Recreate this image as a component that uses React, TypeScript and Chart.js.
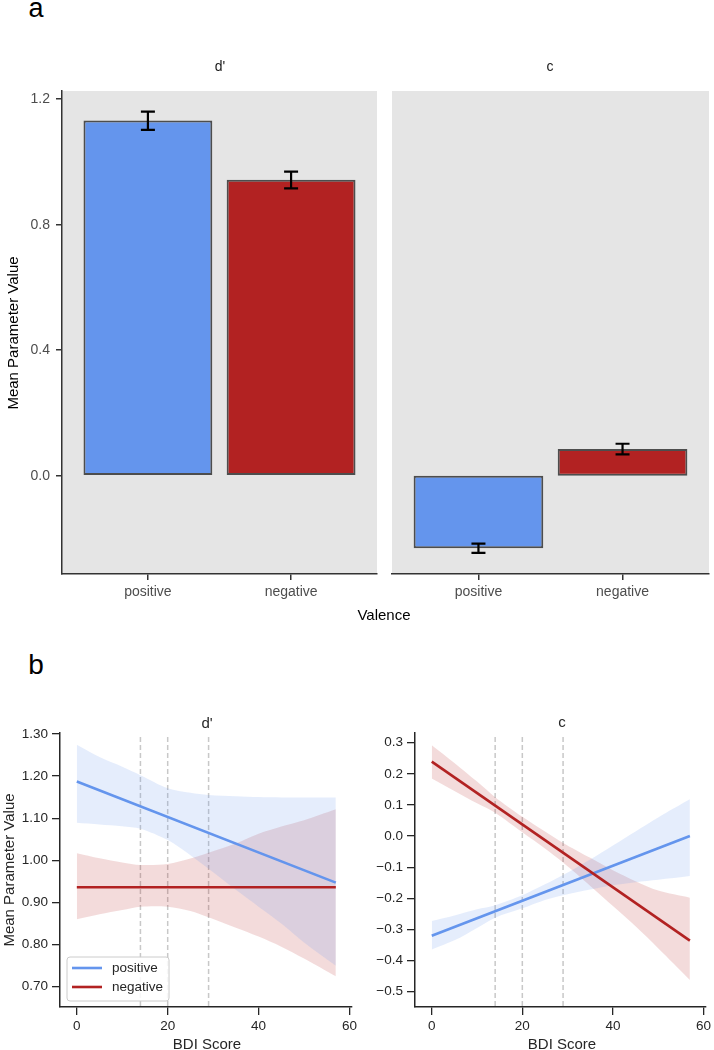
import React, { useEffect, useRef } from "react";
import { Chart, registerables } from "chart.js";

Chart.register(...registerables);

const FONT = '"Liberation Sans", Arial, Helvetica, sans-serif';
Chart.defaults.font.family = FONT;

// ---------------- data: panel a (bars) ----------------
const valenceCategories = ["positive", "negative"];
const dPrimeMeans = [1.132, 0.943];
const dPrimeErrLow = [1.102, 0.916];
const dPrimeErrHigh = [1.16, 0.969];
const cMeans = [-0.231, 0.085];
const cErrLow = [-0.246, 0.068];
const cErrHigh = [-0.216, 0.102];
const barYTicks = [0, 0.4, 0.8, 1.2];

// ---------------- data: panel b (regressions) ----------------
const bdiTicks = [0, 20, 40, 60];
const bdiCutoffs = [14, 20, 29];
const lineX = [0, 57];
const dPrimePositiveLine = [1.187, 0.947];
const dPrimeNegativeLine = [0.936, 0.936];
const cPositiveLine = [-0.32, 0.0];
const cNegativeLine = [0.239, -0.336];

const bandX = [0, 5, 10, 14, 20, 25, 29, 35, 40, 45, 50, 57];
const dPrimePositiveUpper = [1.274, 1.245, 1.222, 1.202, 1.171, 1.16, 1.155, 1.152, 1.15, 1.149, 1.149, 1.149];
const dPrimePositiveLower = [1.089, 1.085, 1.081, 1.075, 1.048, 1.012, 0.98, 0.93, 0.89, 0.85, 0.805, 0.75];
const dPrimeNegativeUpper = [1.017, 1.005, 0.995, 0.989, 0.991, 1.004, 1.018, 1.04, 1.063, 1.08, 1.095, 1.121];
const dPrimeNegativeLower = [0.86, 0.872, 0.882, 0.89, 0.89, 0.88, 0.865, 0.84, 0.819, 0.795, 0.767, 0.725];
const cPositiveUpper = [-0.273, -0.255, -0.235, -0.222, -0.19, -0.155, -0.125, -0.075, -0.03, 0.015, 0.06, 0.118];
const cPositiveLower = [-0.364, -0.335, -0.295, -0.262, -0.232, -0.205, -0.19, -0.172, -0.158, -0.148, -0.14, -0.128];
const cNegativeUpper = [0.292, 0.235, 0.175, 0.125, 0.062, 0.015, -0.022, -0.07, -0.11, -0.145, -0.175, -0.198];
const cNegativeLower = [0.185, 0.145, 0.105, 0.075, 0.012, -0.04, -0.085, -0.16, -0.225, -0.29, -0.36, -0.462];
const dPrimeYTicks = [0.7, 0.8, 0.9, 1.0, 1.1, 1.2, 1.3];
const cYTicks = [-0.5, -0.4, -0.3, -0.2, -0.1, 0, 0.1, 0.2, 0.3];

// ---------------- styles ----------------
const BLUE = "#6495ED";
const RED = "#B22222";
const BLUE_BAND = "rgba(100,149,237,0.17)";
const RED_BAND = "rgba(178,34,34,0.16)";
const valenceColors = [BLUE, RED];

// ---------------- plugins ----------------
function makePanelBg(color: string) {
  return {
    id: "panelBg",
    beforeDraw(chart: any) {
      const { ctx, chartArea: a } = chart;
      ctx.save();
      ctx.fillStyle = color;
      ctx.fillRect(a.left, a.top, a.right - a.left, a.bottom - a.top);
      ctx.restore();
    },
  };
}

function makeErrorBars(low: number[], high: number[]) {
  return {
    id: "errorBars",
    afterDatasetsDraw(chart: any) {
      const { ctx } = chart;
      const xs = chart.scales.x;
      const ys = chart.scales.y;
      ctx.save();
      ctx.strokeStyle = "#000";
      ctx.lineWidth = 2.2;
      low.forEach((lo, i) => {
        const px = xs.getPixelForValue(i);
        const y1 = ys.getPixelForValue(lo);
        const y2 = ys.getPixelForValue(high[i]);
        ctx.beginPath();
        ctx.moveTo(px, y1);
        ctx.lineTo(px, y2);
        ctx.moveTo(px - 7, y1);
        ctx.lineTo(px + 7, y1);
        ctx.moveTo(px - 7, y2);
        ctx.lineTo(px + 7, y2);
        ctx.stroke();
      });
      ctx.restore();
    },
  };
}

function makeCutoffs(values: number[]) {
  return {
    id: "cutoffs",
    beforeDatasetsDraw(chart: any) {
      const { ctx, chartArea: a } = chart;
      const xs = chart.scales.x;
      ctx.save();
      ctx.strokeStyle = "#c8c8c8";
      ctx.lineWidth = 1.5;
      ctx.setLineDash([5, 3]);
      values.forEach((v) => {
        const px = xs.getPixelForValue(v);
        ctx.beginPath();
        ctx.moveTo(px, a.top + 4);
        ctx.lineTo(px, a.bottom);
        ctx.stroke();
      });
      ctx.restore();
    },
  };
}

function makeInsetLegend(labels: string[], colors: string[]) {
  return {
    id: "insetLegend",
    afterDraw(chart: any) {
      const { ctx, chartArea: a } = chart;
      ctx.save();
      ctx.font = `13.5px ${FONT}`;
      const textW = Math.max(...labels.map((l) => ctx.measureText(l).width));
      const w = 45 + textW + 6;
      const h = 44;
      const x0 = a.left + 7;
      const y0 = a.bottom - 6 - h;
      ctx.beginPath();
      ctx.roundRect(x0, y0, w, h, 3);
      ctx.fillStyle = "rgba(255,255,255,0.85)";
      ctx.fill();
      ctx.strokeStyle = "#cccccc";
      ctx.lineWidth = 1;
      ctx.stroke();
      labels.forEach((lab, i) => {
        const yy = y0 + 11 + i * 19;
        ctx.strokeStyle = colors[i];
        ctx.lineWidth = 2.6;
        ctx.beginPath();
        ctx.moveTo(x0 + 5, yy);
        ctx.lineTo(x0 + 35, yy);
        ctx.stroke();
        ctx.fillStyle = "#262626";
        ctx.textBaseline = "middle";
        ctx.textAlign = "left";
        ctx.fillText(lab, x0 + 45, yy);
      });
      ctx.restore();
    },
  };
}

// ---------------- configs ----------------
function barConfig(means: number[], low: number[], high: number[], showY: boolean, padLeft: number, padRight: number) {
  const axisColor = "#333333";
  return {
    type: "bar",
    data: {
      datasets: [
        {
          data: means.map((v, i) => ({ x: i, y: v })),
          backgroundColor: valenceColors,
          borderColor: "#4d4d4d",
          borderWidth: 2,
          borderSkipped: false,
          categoryPercentage: 1,
          barPercentage: 0.9,
        },
      ],
    },
    options: {
      responsive: false,
      animation: false,
      events: [],
      layout: { padding: { left: padLeft, right: padRight, top: 31, bottom: 0 } },
      plugins: { legend: { display: false }, tooltip: { enabled: false } },
      scales: {
        x: {
          type: "linear",
          offset: false,
          min: -0.6,
          max: 1.6,
          afterBuildTicks: (s: any) => {
            s.ticks = valenceCategories.map((_, i) => ({ value: i }));
          },
          afterFit: (s: any) => {
            s.height = 46;
          },
          ticks: {
            callback: (_v: any, i: number) => valenceCategories[i],
            color: "#4d4d4d",
            font: { size: 14 },
            padding: 4,
            autoSkip: false,
            maxRotation: 0,
          },
          grid: { offset: false, drawOnChartArea: false, drawTicks: true, tickLength: 6, color: axisColor, lineWidth: 1.5 },
          border: { display: true, color: axisColor, width: 1.5 },
        },
        y: {
          display: showY,
          min: -0.313,
          max: 1.226,
          afterBuildTicks: (s: any) => {
            s.ticks = barYTicks.map((v) => ({ value: v }));
          },
          afterFit: (s: any) => {
            s.width = showY ? 62 : 0;
          },
          ticks: {
            callback: (v: any) => Number(v).toFixed(1),
            color: "#4d4d4d",
            font: { size: 14 },
            padding: 6,
            autoSkip: false,
          },
          grid: { drawOnChartArea: false, drawTicks: true, tickLength: 6, color: axisColor, lineWidth: 1.5 },
          border: { display: true, color: axisColor, width: 1.5 },
        },
      },
    },
    plugins: [makePanelBg("#e5e5e5"), makeErrorBars(low, high)],
  };
}

function pts(xs: number[], ys: number[]) {
  return xs.map((x, i) => ({ x, y: ys[i] }));
}

function regConfig(opts: {
  posUpper: number[];
  posLower: number[];
  negUpper: number[];
  negLower: number[];
  posLine: number[];
  negLine: number[];
  yMin: number;
  yMax: number;
  yTicks: number[];
  yFmt: (v: number) => string;
  yWidth: number;
  padRight: number;
  legend: boolean;
}) {
  const axisColor = "#262626";
  const band = (data: number[], fill: any, color: string) => ({
    data: pts(bandX, data),
    fill,
    backgroundColor: color,
    borderColor: "rgba(0,0,0,0)",
    borderWidth: 0,
    pointRadius: 0,
    tension: 0.3,
    order: 3,
  });
  const plugins: any[] = [makeCutoffs(bdiCutoffs)];
  if (opts.legend) plugins.push(makeInsetLegend(valenceCategories, valenceColors));
  return {
    type: "line",
    data: {
      datasets: [
        band(opts.posUpper, "+1", BLUE_BAND),
        band(opts.posLower, false, BLUE_BAND),
        band(opts.negUpper, "+1", RED_BAND),
        band(opts.negLower, false, RED_BAND),
        {
          label: valenceCategories[0],
          data: pts(lineX, opts.posLine),
          borderColor: BLUE,
          borderWidth: 2.6,
          pointRadius: 0,
          fill: false,
          order: 1,
        },
        {
          label: valenceCategories[1],
          data: pts(lineX, opts.negLine),
          borderColor: RED,
          borderWidth: 2.6,
          pointRadius: 0,
          fill: false,
          order: 0,
        },
      ],
    },
    options: {
      responsive: false,
      animation: false,
      events: [],
      layout: { padding: { left: 0, right: opts.padRight, top: 33, bottom: 0 } },
      plugins: { legend: { display: false }, tooltip: { enabled: false } },
      scales: {
        x: {
          type: "linear",
          min: -3.7,
          max: 60.4,
          afterBuildTicks: (s: any) => {
            s.ticks = bdiTicks.map((v) => ({ value: v }));
          },
          afterFit: (s: any) => {
            s.height = 43;
          },
          ticks: {
            callback: (v: any) => String(v),
            color: axisColor,
            font: { size: 13.5 },
            padding: 3,
            autoSkip: false,
            maxRotation: 0,
          },
          grid: { drawOnChartArea: false, drawTicks: true, tickLength: 8, color: axisColor, lineWidth: 1.3 },
          border: { display: true, color: axisColor, width: 1.5 },
        },
        y: {
          min: opts.yMin,
          max: opts.yMax,
          afterBuildTicks: (s: any) => {
            s.ticks = opts.yTicks.map((v) => ({ value: v }));
          },
          afterFit: (s: any) => {
            s.width = opts.yWidth;
          },
          ticks: {
            callback: (v: any) => opts.yFmt(Number(v)),
            color: axisColor,
            font: { size: 13.5 },
            padding: 4,
            autoSkip: false,
          },
          grid: { drawOnChartArea: false, drawTicks: true, tickLength: 8, color: axisColor, lineWidth: 1.3 },
          border: { display: true, color: axisColor, width: 1.5 },
        },
      },
    },
    plugins,
  };
}

const fmtMinus = (v: number) => {
  const s = Math.abs(v) < 1e-9 ? "0.0" : v.toFixed(1);
  return s.replace("-", "\u2212");
};

// ---------------- components ----------------
function ChartBox(props: { left: number; top: number; width: number; height: number; make: () => any }) {
  const ref = useRef<HTMLCanvasElement>(null);
  useEffect(() => {
    const chart = new Chart(ref.current as HTMLCanvasElement, props.make());
    return () => chart.destroy();
  }, []);
  return (
    <canvas
      ref={ref}
      width={props.width}
      height={props.height}
      style={{ position: "absolute", left: props.left, top: props.top, width: props.width, height: props.height }}
    />
  );
}

function Label(props: { x: number; y: number; size: number; text: string; color?: string; rotate?: boolean }) {
  return (
    <div
      style={{
        position: "absolute",
        left: props.x,
        top: props.y,
        transform: `translate(-50%, -50%)${props.rotate ? " rotate(-90deg)" : ""}`,
        fontFamily: FONT,
        fontSize: props.size,
        lineHeight: 1,
        color: props.color || "#000",
        whiteSpace: "nowrap",
      }}
    >
      {props.text}
    </div>
  );
}

export default function App() {
  return (
    <div
      style={{
        position: "absolute",
        left: 0,
        top: 0,
        width: 714,
        height: 1050,
        overflow: "hidden",
        background: "#fff",
      }}
    >
      <ChartBox left={0} top={60} width={380} height={560} make={() => barConfig(dPrimeMeans, dPrimeErrLow, dPrimeErrHigh, true, 0, 3)} />
      <ChartBox left={380} top={60} width={334} height={560} make={() => barConfig(cMeans, cErrLow, cErrHigh, false, 12, 5)} />
      <ChartBox
        left={0}
        top={700}
        width={360}
        height={350}
        make={() =>
          regConfig({
            posUpper: dPrimePositiveUpper,
            posLower: dPrimePositiveLower,
            negUpper: dPrimeNegativeUpper,
            negLower: dPrimeNegativeLower,
            posLine: dPrimePositiveLine,
            negLine: dPrimeNegativeLine,
            yMin: 0.652,
            yMax: 1.302,
            yTicks: dPrimeYTicks,
            yFmt: (v) => v.toFixed(2),
            yWidth: 60,
            padRight: 7,
            legend: true,
          })
        }
      />
      <ChartBox
        left={360}
        top={700}
        width={354}
        height={350}
        make={() =>
          regConfig({
            posUpper: cPositiveUpper,
            posLower: cPositiveLower,
            negUpper: cNegativeUpper,
            negLower: cNegativeLower,
            posLine: cPositiveLine,
            negLine: cNegativeLine,
            yMin: -0.549,
            yMax: 0.331,
            yTicks: cYTicks,
            yFmt: fmtMinus,
            yWidth: 55,
            padRight: 6,
            legend: false,
          })
        }
      />

      <Label x={36} y={8} size={27} text="a" />
      <Label x={220} y={66} size={14} text="d'" color="#1a1a1a" />
      <Label x={550} y={65.5} size={14} text="c" color="#1a1a1a" />
      <Label x={384} y={614} size={15} text="Valence" />
      <Label x={12} y={333} size={15} text="Mean Parameter Value" rotate />

      <Label x={36} y={664.5} size={28} text="b" />
      <Label x={207} y={721.5} size={15} text="d'" color="#262626" />
      <Label x={562} y={721} size={15} text="c" color="#262626" />
      <Label x={8} y={870} size={15} text="Mean Parameter Value" color="#262626" rotate />
      <Label x={207} y={1043} size={15} text="BDI Score" color="#262626" />
      <Label x={562} y={1043} size={15} text="BDI Score" color="#262626" />
    </div>
  );
}
